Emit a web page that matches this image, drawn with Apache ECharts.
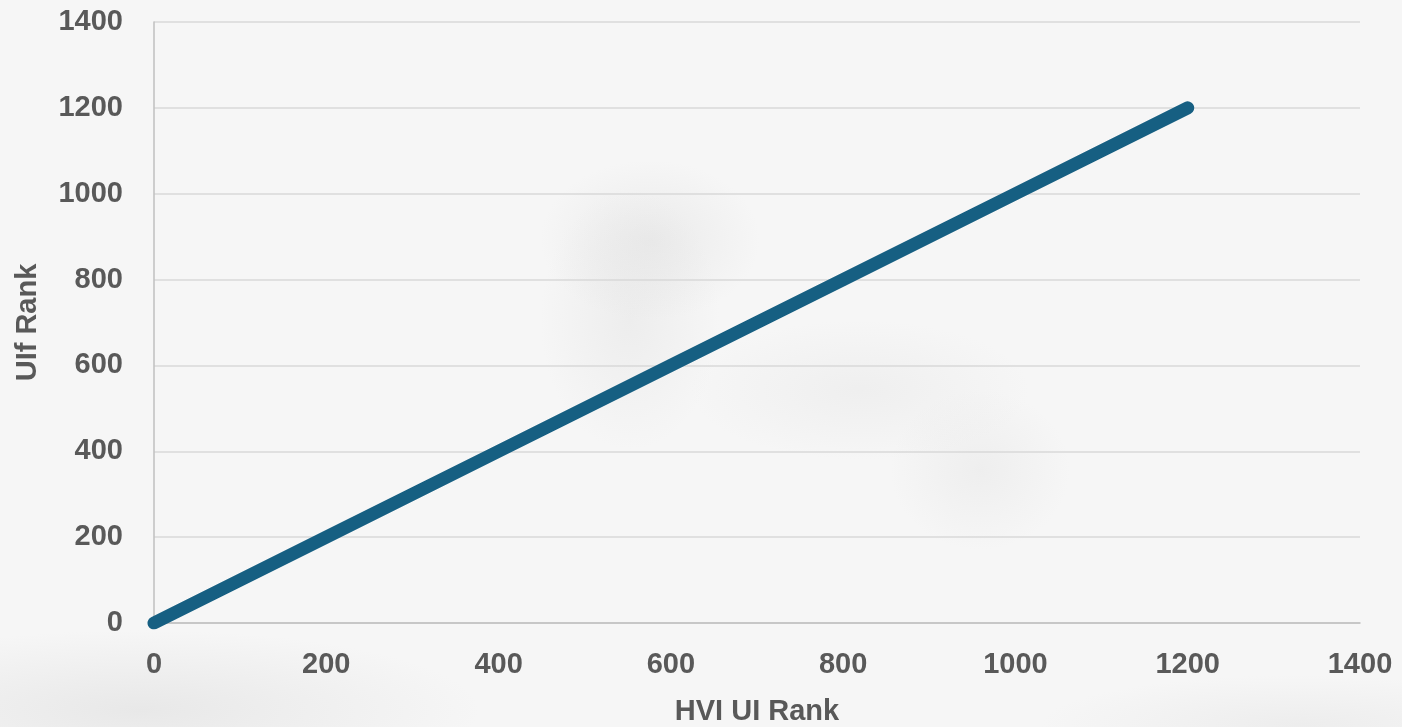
<!DOCTYPE html>
<html>
<head>
<meta charset="utf-8">
<script src="https://cdn.jsdelivr.net/npm/echarts@6/dist/echarts.min.js"></script>
<style>
html, body { margin: 0; padding: 0; width: 1402px; height: 727px; overflow: hidden; }
body {
  background:
    radial-gradient(ellipse 110px 80px at 650px 240px, rgba(205,205,205,0.28), rgba(205,205,205,0) 100%),
    radial-gradient(ellipse 90px 130px at 630px 320px, rgba(210,210,210,0.25), rgba(210,210,210,0) 100%),
    radial-gradient(ellipse 170px 70px at 860px 390px, rgba(210,210,210,0.2), rgba(210,210,210,0) 100%),
    radial-gradient(ellipse 90px 80px at 980px 470px, rgba(210,210,210,0.22), rgba(210,210,210,0) 100%),
    radial-gradient(ellipse 340px 80px at 140px 710px, rgba(215,215,215,0.45), rgba(215,215,215,0) 100%),
    radial-gradient(ellipse 260px 50px at 1300px 725px, rgba(220,220,220,0.35), rgba(220,220,220,0) 100%),
    #f6f6f6;
}
#chart { width: 1402px; height: 727px; }
</style>
</head>
<body>
<div id="chart"></div>
<script>
// Data (HVI UI Rank vs UIf Rank)
var hviRank = [0, 200, 400, 600, 800, 1000, 1200];
var uifRank = [0, 200, 400, 600, 800, 1000, 1200];
var xTicks = [0, 200, 400, 600, 800, 1000, 1200, 1400];
var yTicks = [0, 200, 400, 600, 800, 1000, 1200, 1400];

var points = hviRank.map(function (x, i) { return [x, uifRank[i]]; });

var font = '"Liberation Sans", Arial, Helvetica, sans-serif';
var plain = function (v) { return String(v); };
var chart = echarts.init(document.getElementById('chart'), null, { renderer: 'canvas' });
chart.setOption({
  backgroundColor: 'transparent',
  animation: false,
  grid: { left: 154, right: 42, top: 22, bottom: 104, containLabel: false, outerBoundsMode: 'none' },
  xAxis: {
    type: 'value',
    min: xTicks[0], max: xTicks[xTicks.length - 1], interval: 200,
    name: 'HVI UI Rank', nameLocation: 'middle', nameGap: 74,
    nameTextStyle: { fontSize: 29, fontWeight: 'bold', color: '#595959', fontFamily: font },
    axisLine: { show: true, lineStyle: { color: '#bfbfbf', width: 1.5 } },
    axisTick: { show: false },
    splitLine: { show: false },
    axisLabel: { fontSize: 29, fontWeight: 'bold', color: '#595959', fontFamily: font, margin: 27, formatter: plain }
  },
  yAxis: {
    type: 'value',
    min: yTicks[0], max: yTicks[yTicks.length - 1], interval: 200,
    name: 'UIf Rank', nameLocation: 'middle', nameGap: 112, nameRotate: 90,
    nameTextStyle: { fontSize: 29, fontWeight: 'bold', color: '#595959', fontFamily: font },
    axisLine: { show: true, lineStyle: { color: '#bfbfbf', width: 1.5 } },
    axisTick: { show: false },
    splitLine: { show: true, lineStyle: { color: '#d9d9d9', width: 1.5 } },
    axisLabel: { fontSize: 29, fontWeight: 'bold', color: '#595959', fontFamily: font, margin: 31, formatter: plain }
  },
  series: [{
    type: 'line',
    data: points,
    showSymbol: false,
    symbol: 'none',
    lineStyle: { color: '#165f82', width: 13, cap: 'round', join: 'round' },
    z: 5
  }]
});
</script>
</body>
</html>
